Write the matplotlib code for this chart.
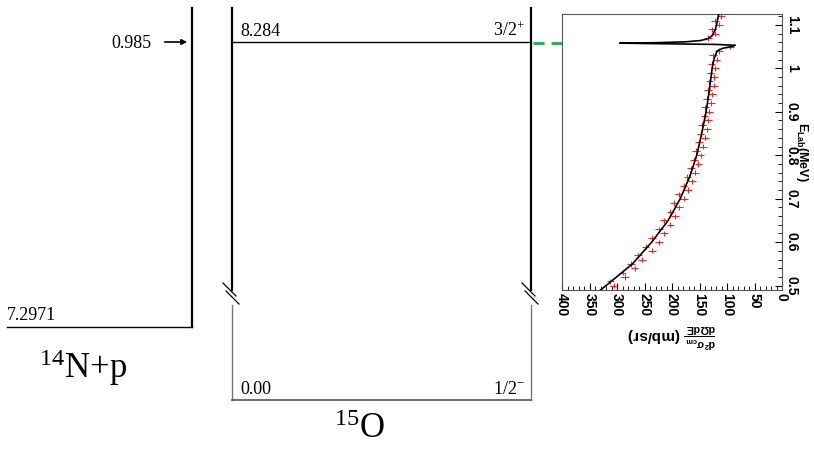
import matplotlib
matplotlib.use("Agg")
import matplotlib.pyplot as plt
import numpy as np

plt.rcParams["mathtext.default"] = "regular"

# data
curve_E = [0.49, 0.5, 0.55, 0.6, 0.65, 0.7, 0.75, 0.8, 0.85, 0.9, 0.95, 1.0, 1.02, 1.04, 1.046, 1.050, 1.053, 1.055, 1.057, 1.058, 1.059, 1.061, 1.064, 1.068, 1.075, 1.09, 1.1, 1.125]
curve_S = [330, 320, 272, 237, 207, 185, 168, 155, 146, 138, 132, 127, 124, 118, 108, 92, 85, 120, 240, 295, 230, 175, 148, 135, 127, 121, 119, 115]
data_E = [0.50,0.51,0.52,0.53,0.54,0.55,0.56,0.57,0.58,0.59,0.60,0.61,0.62,0.63,0.64,0.65,0.66,0.67,0.68,0.69,0.70,0.71,0.72,0.73,0.74,0.75,0.76,0.77,0.78,0.79,0.80,0.81,0.82,0.83,0.84,0.85,0.86,0.87,0.88,0.89,0.90,0.91,0.92,0.93,0.94,0.95,0.96,0.97,0.98,0.99,1.00,1.01,1.02,1.03,1.04,1.05,1.07,1.08,1.09,1.10,1.11,1.12]
data_S = [305,312,285,290,268,275,255,262,236,248,224,236,215,224,203,214,194,203,187,196,178,188,171,179,164,172,158,166,152,160,148,156,144,151,140,148,137,145,134,141,133,140,129,136,127,134,124,132,123,130,122,128,119,126,114,95,134,121,127,114,122,111]
e_ticks = [0.5, 0.6, 0.7, 0.8, 0.9, 1.0, 1.1]
e_labels = ["0.5", "0.6", "0.7", "0.8", "0.9", "1", "1.1"]
s_ticks = [0, 50, 100, 150, 200, 250, 300, 350, 400]

W, H = 814, 451
fig = plt.figure(figsize=(8.14, 4.51), dpi=100)
ax = fig.add_axes([0, 0, 1, 1])
ax.set_xlim(0, W); ax.set_ylim(H, 0); ax.axis("off")
serif = "Liberation Serif"
k = dict(color="black", lw=1.6)
# 14N+p
ax.plot([192, 192], [8, 327], **k)
ax.plot([7, 192], [327, 327], color="black", lw=1)
ax.text(7, 324, "7.2971", family=serif, fontsize=13, va="bottom")
ax.text(152, 43, "0.985", family=serif, fontsize=13, va="center", ha="right")
ax.annotate("", xy=(190, 42), xytext=(162, 42), arrowprops=dict(arrowstyle="-|>", color="black", lw=1.2, mutation_scale=8))
ax.text(83, 368, r"$^{14}$N+p", family=serif, fontsize=25, ha="center", va="center")
# 15O
for x in (232, 531):
    ax.plot([x, x], [8, 290], **k)
    ax.plot([x, x], [305, 400], color="#777777", lw=1)
    ax.plot([x - 9, x + 4], [283, 296], color="black", lw=0.9)
    ax.plot([x - 6, x + 7], [291, 304], color="black", lw=0.9)
ax.plot([232, 531], [42, 42], color="black", lw=1)
ax.plot([232, 531], [400, 400], color="#555555", lw=1.2)
ax.text(240, 40, "8.284", family=serif, fontsize=13, va="bottom")
ax.text(525, 40, r"3/2$^{+}$", family=serif, fontsize=13, va="bottom", ha="right")
ax.text(240, 398, "0.00", family=serif, fontsize=13, va="bottom")
ax.text(525, 398, r"1/2$^{-}$", family=serif, fontsize=13, va="bottom", ha="right")
ax.text(360, 430, r"$^{15}$O", family=serif, fontsize=25, ha="center", va="center")
ax.plot([533, 628], [43, 43], color="#22aa55", lw=2, ls=(0, (4, 2.5)))

# rotated plot
x0, x1, y0, y1 = 562, 782, 14, 290
ia = fig.add_axes([x0 / W, 1 - y1 / H, (x1 - x0) / W, (y1 - y0) / H])
S = np.array(data_S, float); E = np.array(data_E, float)
ia.hlines(E, S - 7, S + 7, color="#ff2020", lw=0.8, zorder=2)
ia.vlines(S, E - 0.006, E + 0.006, color="#ff2020", lw=0.8, zorder=2)
ia.plot(curve_S, curve_E, color="black", lw=1.2, zorder=3)
ia.set_xlim(400, 0); ia.set_ylim(0.49, 1.125)
ia.yaxis.tick_right(); ia.yaxis.set_label_position("right")
tk = dict(family="Liberation Sans", fontweight="bold", fontsize=10)
ia.set_yticks(e_ticks); ia.set_yticklabels(e_labels, rotation=-90, va="center", **tk)
ia.set_yticks(np.arange(0.5, 1.125, 0.02), minor=True)
ia.set_xticks(s_ticks); ia.set_xticklabels([str(s) for s in s_ticks], rotation=-90, ha="center", **tk)
ia.set_xticks(range(0, 401, 10), minor=True)
ia.tick_params(direction="in", which="both", length=5, pad=2)
ia.tick_params(which="minor", length=3)
ia.set_ylabel(r"E$_{Lab}$(MeV)", rotation=-90, family="Liberation Sans", fontsize=9, fontweight="bold", labelpad=8)
ia.set_xlabel(r"$\frac{d^2\sigma_{cm}}{d\Omega dE}$ (mb/sr)", rotation=180, family="Liberation Sans", fontsize=11, fontweight="bold", labelpad=4)
for s in ia.spines.values():
    s.set_color("#555555")
fig.savefig("out.png", dpi=100)
